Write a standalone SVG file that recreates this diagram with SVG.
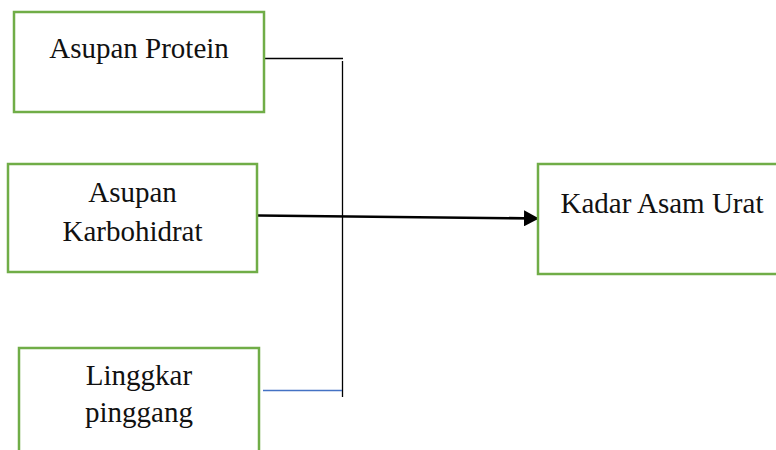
<svg xmlns="http://www.w3.org/2000/svg" width="776" height="450" viewBox="0 0 776 450">
<defs>
<style>
.box{fill:#fff;stroke:#70AD47;stroke-width:2.5}
.t{font-family:"Liberation Serif","Times New Roman",serif;font-size:29px;fill:#111;text-anchor:middle}
.ln{fill:none;stroke:#000;stroke-width:1.3}
</style>
<marker id="ah" markerWidth="16" markerHeight="16" refX="15" refY="8" orient="auto" markerUnits="userSpaceOnUse">
<path d="M0,0 L15,8 L0,16 Z" fill="#000"/>
</marker>
</defs>
<rect width="776" height="450" fill="#fff"/>
<g id="connectors">
<line class="ln" x1="265" y1="58.5" x2="343" y2="58.5"/>
<line class="ln" x1="342.5" y1="61" x2="342.5" y2="397"/>
<line x1="263" y1="390.5" x2="342" y2="390.5" stroke="#4472C4" stroke-width="1.3"/>
<line x1="258" y1="215.5" x2="539" y2="218.5" stroke="#000" stroke-width="2.6" marker-end="url(#ah)"/>
</g>
<g id="asupan-protein">
<rect class="box" x="14" y="12" width="250" height="100"/>
<text class="t" x="139" y="58">Asupan Protein</text>
</g>
<g id="asupan-karbohidrat">
<rect class="box" x="8" y="164" width="249" height="108"/>
<text class="t" x="132.5" y="201.5">Asupan</text>
<text class="t" x="132.5" y="240.5">Karbohidrat</text>
</g>
<g id="linggkar-pinggang">
<rect class="box" x="19" y="348" width="240" height="112"/>
<text class="t" x="139" y="385">Linggkar</text>
<text class="t" x="139" y="422">pinggang</text>
</g>
<g id="kadar-asam-urat">
<rect class="box" x="538" y="164" width="250" height="110"/>
<text class="t" x="662" y="213">Kadar Asam Urat</text>
</g>
</svg>
